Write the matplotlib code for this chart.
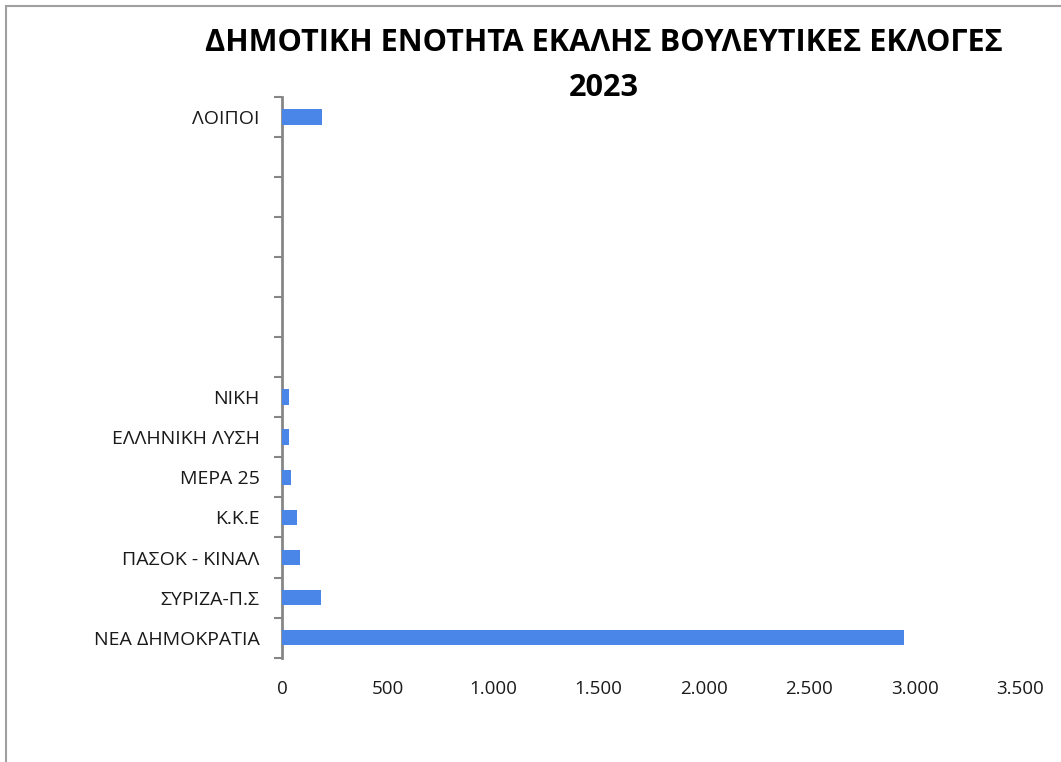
import matplotlib
matplotlib.use("Agg")
import matplotlib.pyplot as plt
from matplotlib.ticker import FuncFormatter, FixedLocator
from matplotlib.patches import Rectangle

plt.rcParams['font.family'] = ['Open Sans', 'DejaVu Sans']

title = "ΔΗΜΟΤΙΚΗ ΕΝΟΤΗΤΑ ΕΚΑΛΗΣ ΒΟΥΛΕΥΤΙΚΕΣ ΕΚΛΟΓΕΣ\n2023"
categories = ["ΝΕΑ ΔΗΜΟΚΡΑΤΙΑ", "ΣΥΡΙΖΑ-Π.Σ", "ΠΑΣΟΚ - ΚΙΝΑΛ", "Κ.Κ.Ε", "ΜΕΡΑ 25",
              "ΕΛΛΗΝΙΚΗ ΛΥΣΗ", "ΝΙΚΗ", "", "", "", "", "", "", "ΛΟΙΠΟΙ"]
values = [2950, 184, 86, 73, 41, 32, 35, 0, 0, 0, 0, 0, 0, 191]
x_ticks = [0, 500, 1000, 1500, 2000, 2500, 3000, 3500]

W, H = 1061, 762
fig = plt.figure(figsize=(W / 100, H / 100), dpi=100)
ax = fig.add_axes([282 / W, 1 - 657.7 / H, (1020 - 282) / W, (657.7 - 96.7) / H])

pos = list(range(len(categories)))
ax.barh(pos, values, height=0.39, color='#4A86E8', linewidth=0, zorder=3)

ax.set_xlim(0, 3500)
ax.set_ylim(-0.5, len(categories) - 0.5)
ax.set_xticks(x_ticks)
ax.xaxis.set_major_formatter(FuncFormatter(lambda v, p: f"{int(v):,}".replace(",", ".")))
ax.set_yticks(pos)
ax.set_yticklabels(categories)
ax.yaxis.set_minor_locator(FixedLocator([i - 0.5 for i in range(len(categories) + 1)]))

ax.tick_params(axis='y', which='major', length=0, pad=16, labelsize=14, labelcolor='#1a1a1a')
ax.tick_params(axis='y', which='minor', length=6, width=1.5, color='#868686', direction='out')
ax.tick_params(axis='x', which='major', length=0, pad=16, labelsize=13.5, labelcolor='#1a1a1a')

for s in ['top', 'right', 'bottom']:
    ax.spines[s].set_visible(False)
ax.spines['left'].set_color('#868686')
ax.spines['left'].set_linewidth(2)

fig.text(604 / W, 1 - 65.5 / H, title, ha='center', va='center', fontsize=22.1,
         fontweight='bold', linespacing=1.62, color='black')

# outer chart border (top and left visible)
fig.patches.append(Rectangle((5.5 / W, -0.1), 1.2, 1 - 6 / H + 0.1, transform=fig.transFigure,
                             fill=False, edgecolor='#A0A0A0', linewidth=1.5))

fig.savefig("out.png", dpi=100)
